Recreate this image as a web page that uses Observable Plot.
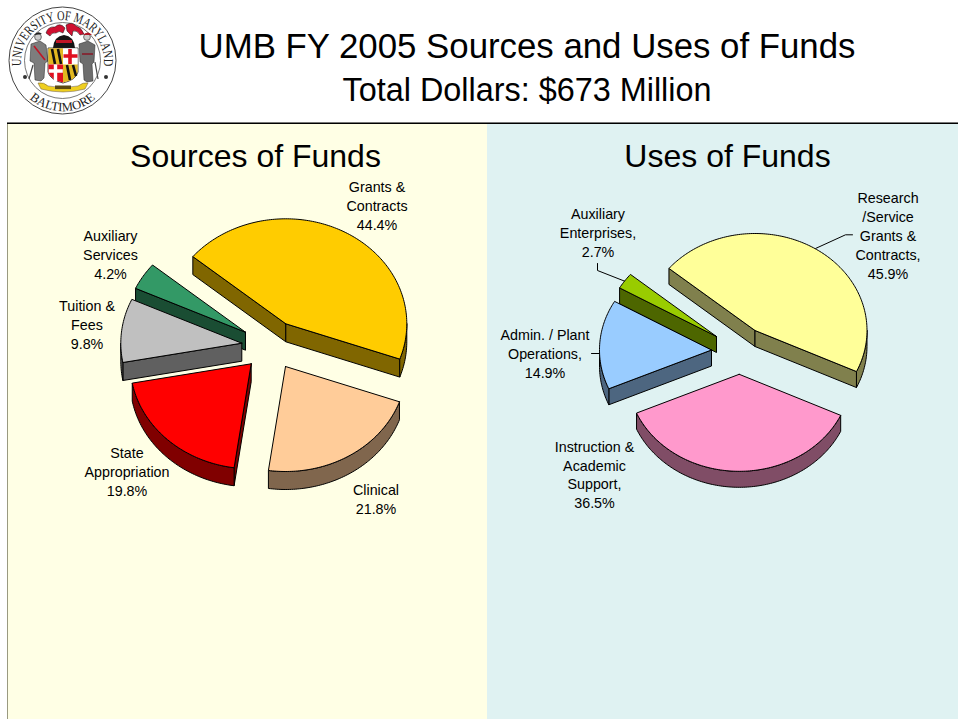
<!DOCTYPE html>
<html>
<head>
<meta charset="utf-8">
<script src="https://cdn.jsdelivr.net/npm/d3@7"></script>
<script src="https://cdn.jsdelivr.net/npm/@observablehq/plot@0.6"></script>
<style>
  html, body { margin: 0; padding: 0; background: #fff; overflow: hidden; }
  body { width: 958px; height: 719px; position: relative; font-family: "Liberation Sans", Arial, sans-serif; color: #000; }
  #title, #subtitle { position: absolute; left: 0; width: 1054px; text-align: center; white-space: nowrap; }
  #title { top: 24px; font-size: 34.8px; line-height: 44px; }
  #subtitle { top: 71px; font-size: 32.4px; line-height: 38px; }
  #logo { position: absolute; left: 0; top: 0; }
  #rule { position: absolute; left: 7px; top: 123px; width: 951px; height: 1px; background: #000; box-shadow: 0 -1px 0 #777; z-index: 2; }
  #edge { position: absolute; left: 7px; top: 124px; width: 1px; height: 595px; background: #9a9a80; z-index: 2; }
  #left, #right { position: absolute; top: 124px; }
  #left { left: 7px; } #right { left: 487px; }
  svg { display: block; }
</style>
</head>
<body>
<svg id="logo" width="130" height="122" viewBox="0 0 130 122">
  <circle cx="62.5" cy="60.5" r="53.5" fill="#fff" stroke="#444" stroke-width="1"/>
  <circle cx="62.5" cy="60.5" r="38" fill="#fff" stroke="#555" stroke-width="0.8"/>
  <defs>
    <path id="arcTop" d="M21.5 68 A41.5 41.5 0 1 1 103.5 68"/>
    <path id="arcBot" d="M31 100 A50 50 0 0 0 94 100"/>
  </defs>
  <text font-family="Liberation Serif" font-size="13.5" fill="#222" textLength="139" lengthAdjust="spacingAndGlyphs"><textPath href="#arcTop" startOffset="50%" text-anchor="middle">UNIVERSITY OF MARYLAND</textPath></text>
  <text font-family="Liberation Serif" font-size="12.6" fill="#222"><textPath href="#arcBot" startOffset="50%" text-anchor="middle">BALTIMORE</textPath></text>
  <circle cx="25" cy="77" r="2" fill="#333"/><circle cx="106" cy="77" r="2" fill="#333"/>
  <!-- mantling -->
  <path d="M46 33 q2 -7 9 -6 q5 -5 10 1 l-2 5 q-4 -3 -7 0 q-4 -1 -6 3 z" fill="#d01030" stroke="#111" stroke-width=".5"/>
  <path d="M66 25 q6 -4 10 1 q5 1 8 8 l-4 1 q-3 -5 -7 -4 l-1 5 l-5 -5 z" fill="#d01030" stroke="#111" stroke-width=".5"/>
  <!-- helmet -->
  <path d="M53 48 q1 -12 11 -13 q10 1 11 13 z" fill="#151515"/>
  <path d="M56 40 h16 v3 h-16 z" fill="#c01525"/>
  <!-- supporters -->
  <path d="M31 44 l9 -3 l6 4 l2 16 l-3 2 l-1 15 l-3 3 l-6 -1 l-1 -17 l-4 -2 z" fill="#7d7d7d" stroke="#222" stroke-width=".5"/>
  <path d="M34 46 l11 14" stroke="#c01525" stroke-width="1.6"/>
  <circle cx="38" cy="37" r="3.4" fill="#ccc" stroke="#222" stroke-width=".6"/>
  <path d="M34 35 q4 -5 8 -1 z" fill="#222"/>
  <path d="M33 65 l-4 14" stroke="#444" stroke-width="1.2"/>
  <path d="M79 44 l9 -3 l7 4 l-1 17 l-2 2 l1 17 l-6 1 l-3 -2 l-1 -16 l-3 -2 z" fill="#6d6d6d" stroke="#222" stroke-width=".5"/>
  <path d="M82 54 h11" stroke="#8a1020" stroke-width="1.4"/>
  <circle cx="87" cy="37" r="3.4" fill="#ccc" stroke="#222" stroke-width=".6"/>
  <path d="M83 35 q5 -5 9 0 z" fill="#b01525"/>
  <path d="M95 62 l3 17" stroke="#444" stroke-width="1.2"/>
  <!-- shield -->
  <path id="shieldBack" d="M48 48 h30 v24 q-2 8 -15 11 q-13 -3 -15 -11 z" fill="#fff" stroke="#222" stroke-width=".8"/>
  <rect x="48.4" y="48.4" width="14.6" height="16" fill="#e3b820"/>
  <path d="M52 49 l3 15 M58 49 l3 15" stroke="#111" stroke-width="2.6"/>
  <rect x="63" y="48.4" width="14.6" height="16" fill="#fff"/>
  <path d="M70 49 v15 M63.5 56 h14" stroke="#e01020" stroke-width="3.6"/>
  <path d="M48.4 64.4 h14.6 v18 q-12 -2 -14.6 -10.4 z" fill="#e01020"/>
  <path d="M55.5 64.5 v17 M48.8 71 h14" stroke="#fff" stroke-width="3.4"/>
  <path d="M63 64.4 h14.6 v7.6 q-2 8 -14.6 10.6 z" fill="#e3b820"/>
  <path d="M67 65 l3 15 M73 65 l3 11" stroke="#111" stroke-width="2.6"/>
  <!-- ribbon -->
  <path d="M38 83 q6 -1 10 3 q15 3 30 0 q5 -4 10 -3 l-3 6 q-22 6 -44 0 z" fill="#efcf20" stroke="#654" stroke-width=".5"/>
  <rect x="55" y="85.5" width="16" height="3.6" fill="#5a4a10"/>
</svg>
<div id="title">UMB FY 2005 Sources and Uses of Funds</div>
<div id="subtitle">Total Dollars: $673 Million</div>
<div id="rule"></div>
<div id="edge"></div>
<div id="left"></div>
<div id="right"></div>
<script>
// ---- chart values ----
const sourceCategories = ["Grants & Contracts", "Clinical", "State Appropriation", "Tuition & Fees", "Auxiliary Services"];
const sourceShares = [44.4, 21.8, 19.8, 9.8, 4.2];
const sourceLabels = ["Grants &\nContracts\n44.4%", "Clinical\n21.8%", "State\nAppropriation\n19.8%", "Tuition &\nFees\n9.8%", "Auxiliary\nServices\n4.2%"];
const useCategories = ["Research / Service Grants & Contracts", "Instruction & Academic Support", "Admin. / Plant Operations", "Auxiliary Enterprises"];
const useShares = [45.9, 36.5, 14.9, 2.7];
const useLabels = ["Research\n/Service\nGrants &\nContracts,\n45.9%", "Instruction &\nAcademic\nSupport,\n36.5%", "Admin. / Plant\nOperations,\n14.9%", "Auxiliary\nEnterprises,\n2.7%"];

// ---- styling and layout (page pixels) ----
const panels = {
  sources: {
    el: "#left", left: 7, right: 487, background: "#FFFFE5", title: "Sources of Funds", titleX: 255,
    rx: 121, ry: 105, depth: 18, startAngle: -50.2, drawOrder: [4, 0, 3, 1, 2],
    tops: ["#FFCC00", "#FFCC99", "#FF0000", "#C0C0C0", "#339966"],
    walls: ["#806600", "#80664D", "#800000", "#606060", "#1A4D33"],
    apex: [[285.3, 323.3], [285, 366], [250.7, 363.3], [241.3, 342.7], [245, 331.7]],
    labelAt: [[376.5, 204.5], [375.5, 498], [126.5, 470.5], [86.5, 323.5], [110, 253.5]],
    leaders: []
  },
  uses: {
    el: "#right", left: 487, right: 958, background: "#DFF2F2", title: "Uses of Funds", titleX: 727,
    rx: 112, ry: 97, depth: 16, startAngle: -50.2, drawOrder: [3, 0, 2, 1],
    tops: ["#FFFF99", "#FF99CC", "#99CCFF", "#99CC00"],
    walls: ["#80804D", "#804D66", "#4D6680", "#4D6600"],
    apex: [[754.5, 330], [738.7, 373.8], [711, 349.5], [716, 336]],
    labelAt: [[887.5, 234.5], [594, 473.5], [544.5, 352.5], [597.5, 231.5]],
    leaders: [
      [[815, 248], [845, 234.3], [852, 234.3]],
      [[591, 353], [600, 353]],
      [[597, 263], [597, 270], [625, 281]]
    ]
  }
};

function arcPoints(a0, a1) {
  const n = Math.max(2, Math.ceil(Math.abs(a1 - a0)));
  return d3.range(n + 1).map(i => (a0 + (a1 - a0) * i / n) * Math.PI / 180);
}

function piePolys(shares, p) {
  const polys = [];
  let cumulative = p.startAngle;
  const spans = shares.map(v => {
    const a0 = cumulative; cumulative += v * 3.6; return [a0, cumulative];
  });
  const rad = d => d * Math.PI / 180;
  for (const i of p.drawOrder) {
    const [a0, a1] = spans[i];
    const [ax, ay] = p.apex[i];
    const px = t => ax + p.rx * Math.sin(t);
    const py = t => ay - p.ry * Math.cos(t);
    const add = (key, fill, pts) => {
      pts.push(pts[0]);
      pts.forEach(([x, y]) => polys.push({ id: `${p.title}-${i}-${key}`, fill, x, y }));
    };
    // radial wall faces that look toward the viewer
    const faceVisible = (a, isStart) => (isStart ? -Math.sin(rad(a)) : Math.sin(rad(a))) > 0;
    [[a0, true], [a1, false]].forEach(([a, isStart]) => {
      if (!faceVisible(a, isStart)) return;
      const t = rad(a);
      add(isStart ? "startwall" : "endwall", p.walls[i], [
        [ax, ay], [px(t), py(t)], [px(t), py(t) + p.depth], [ax, ay + p.depth]
      ]);
    });
    // outer wall: only the front half of the rim
    const lo = Math.max(a0, 90), hi = Math.min(a1, 270);
    if (hi > lo) {
      const rim = arcPoints(lo, hi);
      add("rim", p.walls[i], [
        ...rim.map(t => [px(t), py(t)]),
        ...rim.slice().reverse().map(t => [px(t), py(t) + p.depth])
      ]);
    }
    // top face
    add("top", p.tops[i], [[ax, ay], ...arcPoints(a0, a1).map(t => [px(t), py(t)])]);
  }
  return polys;
}

function drawPanel(p, shares, labels) {
  const width = p.right - p.left, height = 595;
  const polys = piePolys(shares, p);
  const textRows = labels.map((text, i) => ({ text, x: p.labelAt[i][0], y: p.labelAt[i][1] }));
  const leaderRows = p.leaders.flatMap((pts, k) => pts.map(([x, y]) => ({ k, x, y })));
  return Plot.plot({
    width, height, margin: 0,
    style: { background: p.background, fontFamily: "'Liberation Sans', Arial, sans-serif" },
    x: { domain: [p.left, p.right], range: [0, width], axis: null },
    y: { domain: [124, 719], range: [0, height], axis: null },
    color: { type: "identity" },
    marks: [
      Plot.line(leaderRows, { x: "x", y: "y", z: "k", stroke: "#000", strokeWidth: 1 }),
      Plot.line(polys, { x: "x", y: "y", z: "id", fill: "fill", stroke: "#000", strokeWidth: 1, strokeLinejoin: "round" }),
      Plot.text(textRows, { x: "x", y: "y", text: "text", fontSize: 14.3, lineHeight: 1.32, textAnchor: "middle", lineAnchor: "middle", fill: "#000" }),
      Plot.text([p.title], { x: () => p.titleX, y: () => 156, text: d => d, fontSize: 32, textAnchor: "middle", lineAnchor: "middle", fill: "#000" })
    ]
  });
}

document.querySelector("#left").append(drawPanel(panels.sources, sourceShares, sourceLabels));
document.querySelector("#right").append(drawPanel(panels.uses, useShares, useLabels));
</script>
</body>
</html>
